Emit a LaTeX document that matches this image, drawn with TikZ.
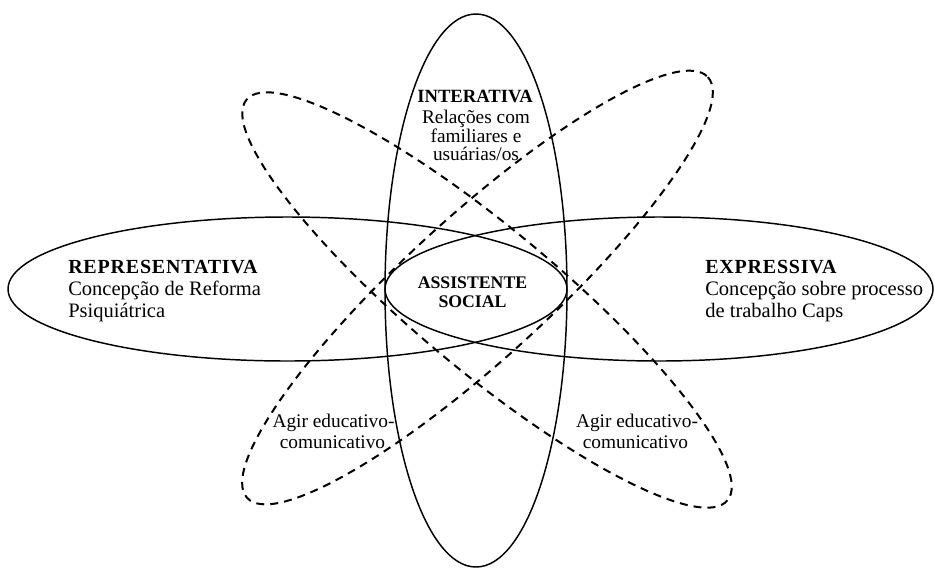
\documentclass[tikz,border=0pt]{standalone}
\usepackage{fontspec}
\setmainfont{Liberation Serif}
\begin{document}
\begin{tikzpicture}[x=0.75pt,y=-0.75pt,
  ringline/.style={line width=1.1pt, draw=black},
  dashring/.style={line width=1.5pt, draw=black, dash pattern=on 6pt off 4.5pt},
  sidehead/.style={inner sep=0pt, anchor=base west, font=\fontsize{15}{18}\selectfont\bfseries\addfontfeatures{LetterSpace=4}},
  sidebody/.style={inner sep=0pt, anchor=base west, font=\fontsize{15.4}{18}\selectfont},
  midhead/.style={inner sep=0pt, anchor=base, font=\fontsize{14}{17}\selectfont\bfseries},
  midbody/.style={inner sep=0pt, anchor=base, font=\fontsize{14.5}{17}\selectfont},
  corehead/.style={inner sep=0pt, anchor=base, font=\fontsize{13.3}{16}\selectfont\bfseries},
  agirtext/.style={inner sep=0pt, anchor=base, font=\fontsize{14.5}{17}\selectfont}]
\useasboundingbox (0,0) rectangle (934,568);
% solid ellipses
\draw[ringline] (476,290.5) ellipse [x radius=91, y radius=276.5];
\draw[ringline] (287.5,289) ellipse [x radius=279.5, y radius=72];
\draw[ringline] (659,289) ellipse [x radius=274, y radius=72];
% dashed ellipses
\draw[dashring, rotate around={-39.8:(487,300)}] (487,300) ellipse [x radius=313, y radius=71];
\draw[dashring, rotate around={42.4:(477.5,287.5)}] (477.5,287.5) ellipse [x radius=312, y radius=71];
% texts
\node[sidehead] (rephead) at (68,273) {REPRESENTATIVA};
\node[sidebody] (repl1) at (68,295) {Concepção de Reforma};
\node[sidebody] (repl2) at (68,317) {Psiquiátrica};
\node[sidehead] (exphead) at (705,273) {EXPRESSIVA};
\node[sidebody] (expl1) at (705,295) {Concepção sobre processo};
\node[sidebody] (expl2) at (705,317) {de trabalho Caps};
\node[midhead] (inthead) at (475,102) {INTERATIVA};
\node[midbody] (intl1) at (476,123) {Relações com};
\node[midbody] (intl2) at (476,142) {familiares e};
\node[midbody] (intl3) at (476,160) {usuárias/os};
\node[corehead] (core1) at (472.5,288) {ASSISTENTE};
\node[corehead] (core2) at (472.5,307) {SOCIAL};
\node[agirtext] (agirLa) at (333.5,427) {Agir educativo-};
\node[agirtext] (agirLb) at (332.5,448) {comunicativo};
\node[agirtext] (agirRa) at (637,427) {Agir educativo-};
\node[agirtext] (agirRb) at (635.5,448) {comunicativo};
\end{tikzpicture}
\end{document}
